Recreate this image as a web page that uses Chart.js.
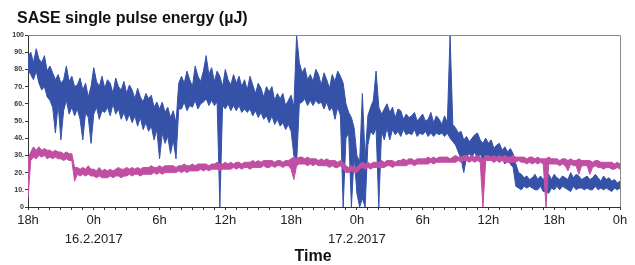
<!DOCTYPE html>
<html lang="en">
<head>
  <meta charset="UTF-8" />
  <title>SASE single pulse energy</title>
  <script src="https://cdn.jsdelivr.net/npm/chart.js"></script>
  <style>
    html, body { margin: 0; padding: 0; background: #fff; }
    .quadro { position: relative; width: 635px; height: 265px; }
    canvas { display: block; }
    h1 {
      position: absolute; left: 17px; top: 10px; margin: 0;
      font: bold 16px/16px "Liberation Sans", Arial, sans-serif; color: #111;
    }
  </style>
</head>
<body>
  <div class="quadro">
    <canvas id="grafico" width="635" height="265"></canvas>
    <h1>SASE single pulse energy (µJ)</h1>
  </div>

  <script>
    // hours since 15.2.2017 18:00, one slot every 15 min
    const passo = 0.25;

    // SASE energy (blue): upper and lower edge of the noisy band per slot
    const saseMax = [
      87, 90, 84, 92,  86, 84, 88, 79,  82, 78, 74, 77,  72, 74, 82, 73,
      76, 70, 71, 75,  68, 72, 64, 70,  81, 73, 70, 76,  69, 74, 72, 66,
      75, 70, 68, 73,  66, 71, 68, 63,  69, 64, 61, 66,  63, 65, 58, 61,
      57, 61, 55, 58,  52, 56, 49, 72,  76, 72, 79, 74,  70, 82, 76, 73,
      79, 88, 77, 81,  73, 79, 76, 70,  80, 74, 71, 77,  72, 76, 70, 74,
      68, 76, 71, 66,  72, 69, 64, 70,  67, 70, 62, 66,  63, 66, 59, 62,
      65, 58, 100, 84, 78, 81, 74, 77,  73, 80, 77, 71,  78, 74, 69, 77,
      73, 79, 76, 72,  60, 55, 52, 46,  30, 26, 66, 28,  53, 58, 62, 79,
      58, 54, 57, 60,  55, 58, 52, 57,  56, 51, 54, 52,  53, 55, 50, 52,
      54, 50, 51, 55,  49, 53, 51, 48,  53, 49, 100, 48, 46, 43, 44, 39,
      41, 38, 40, 42,  43, 39, 37, 40,  37, 39, 34, 36,  37, 33, 35, 32,
      34, 31, 25, 20,  19, 17, 18, 16,  17, 19, 16, 18,  16, 18, 19, 16,
      19, 17, 16, 18,  17, 16, 20, 17,  19, 18, 16, 17,  18, 16, 17, 19,
      17, 15, 18, 16,  17, 15, 16, 14,  15
    ];
    const saseMin = [
      80, 77, 74, 79,  72, 68, 70, 64,  62, 58, 43, 60,  39, 56, 62, 54,
      58, 53, 57, 51,  39, 55, 52, 37,  54, 58, 51, 56,  55, 58, 53, 60,
      54, 57, 51, 55,  50, 54, 49, 53,  47, 52, 45, 49,  44, 47, 39, 45,
      28, 43, 37, 41,  31, 39, 28, 57,  57, 61, 56, 59,  58, 62, 57, 60,
      61, 63, 59, 62,  59, 61, 0, 59,   57, 60, 56, 59,  56, 59, 55, 57,
      55, 57, 53, 56,  52, 55, 51, 53,  49, 53, 48, 51,  47, 49, 45, 48,
      44, 30, 25, 60,  61, 63, 59, 62,  59, 62, 60, 61,  57, 61, 56, 58,
      51, 58, 53, 0,   40, 43, 0, 30,   8, 0, 5, 0,      36, 44, 42, 46,
      0, 44, 39, 46,   39, 45, 42, 44,  41, 45, 42, 43,  42, 45, 41, 43,
      42, 44, 41, 43,  41, 43, 42, 43,  41, 43, 40, 38,  36, 32, 28, 20,
      29, 31, 29, 32,  28, 31, 27, 30,  27, 29, 26, 28,  26, 28, 25, 27,
      25, 23, 12, 11,  10, 12, 11, 12,  11, 10, 10, 12,  9, 9, 8, 11,
      10, 12, 10, 12,  11, 10, 9, 12,   10, 11, 11, 10,  11, 10, 10, 12,
      10, 11, 10, 11,  10, 9, 11, 10,   11
    ];

    // second signal (magenta): upper and lower edge per slot
    const rosaMax = [
      28, 32, 35, 33,  35, 33, 34, 33,  33, 32, 33, 32,  32, 31, 32, 31,
      31, 23, 23, 22,  23, 22, 24, 22,  22, 21, 23, 21,  22, 21, 22, 21,
      22, 23, 22, 22,  23, 22, 23, 22,  23, 22, 23, 23,  23, 24, 23, 23,
      24, 23, 24, 24,  24, 24, 23, 24,  24, 25, 24, 24,  25, 24, 25, 25,
      25, 25, 24, 25,  25, 26, 25, 25,  26, 25, 26, 25,  26, 26, 25, 26,
      26, 26, 27, 26,  27, 26, 27, 27,  27, 27, 26, 27,  27, 26, 27, 27,
      28, 29, 28, 29,  29, 28, 29, 28,  28, 28, 27, 28,  27, 28, 27, 27,
      27, 26, 27, 26,  24, 23, 24, 23,  23, 25, 26, 25,  26, 25, 26, 26,
      26, 27, 26, 27,  27, 27, 26, 27,  27, 28, 27, 28,  28, 27, 28, 28,
      28, 28, 29, 28,  29, 28, 29, 29,  29, 29, 28, 29,  30, 29, 29, 30,
      30, 29, 30, 29,  30, 29, 28, 30,  30, 29, 30, 29,  30, 29, 30, 29,
      29, 30, 29, 29,  29, 29, 28, 29,  29, 28, 29, 28,  28, 28, 29, 28,
      28, 28, 27, 28,  28, 27, 28, 27,  27, 28, 27, 27,  27, 27, 26, 27,
      27, 26, 26, 26,  26, 26, 25, 26,  25
    ];
    const rosaMin = [
      5, 27, 29, 28,   30, 29, 30, 28,  29, 28, 29, 28,  28, 27, 28, 27,
      27, 15, 19, 18,  19, 18, 19, 18,  18, 17, 18, 17,  17, 17, 18, 17,
      18, 18, 17, 18,  18, 19, 18, 19,  19, 18, 19, 19,  19, 19, 20, 19,
      20, 19, 20, 20,  20, 20, 20, 21,  20, 21, 20, 21,  21, 21, 21, 22,
      21, 22, 21, 22,  22, 22, 21, 22,  22, 22, 22, 23,  22, 23, 22, 23,
      23, 22, 23, 23,  23, 23, 24, 23,  23, 24, 23, 24,  24, 23, 24, 24,
      22, 16, 24, 25,  25, 25, 24, 25,  24, 25, 24, 24,  24, 24, 23, 24,
      23, 23, 24, 22,  20, 20, 21, 20,  20, 22, 23, 22,  23, 22, 23, 23,
      23, 23, 23, 24,  24, 23, 24, 24,  24, 24, 24, 25,  25, 24, 25, 25,
      25, 25, 25, 26,  25, 26, 26, 26,  26, 26, 26, 26,  26, 27, 26, 27,
      27, 26, 27, 26,  27, 26, 0, 27,   27, 27, 26, 27,  26, 27, 26, 26,
      26, 26, 26, 27,  26, 26, 25, 26,  25, 26, 25, 26,  25, 0, 25, 25,
      25, 25, 24, 25,  24, 21, 25, 24,  24, 19, 24, 24,  24, 19, 23, 24,
      23, 23, 22, 23,  23, 22, 22, 23,  22
    ];

    const rotulosHora = ['18h', '0h', '6h', '12h', '18h', '0h', '6h', '12h', '18h', '0h'];
    const rotulosData = ['', '16.2.2017', '', '', '', '17.2.2017', '', '', '', ''];
    const rotulosY = ['0', '10.', '20.', '30.', '40.', '50.', '60.', '70.', '80.', '90.', '100'];

    const azul = '#3652a8';
    const rosa = '#c04fa3';

    const pontos = serie => serie.map((v, i) => ({ x: i * passo, y: v }));

    // gray frame on top and right of the plot
    const moldura = {
      id: 'moldura',
      afterDatasetsDraw(chart) {
        const { ctx, chartArea: a } = chart;
        ctx.save();
        ctx.strokeStyle = '#8a8a8a';
        ctx.lineWidth = 1;
        ctx.beginPath();
        ctx.moveTo(a.left, a.top + 0.5);
        ctx.lineTo(a.right + 0.5, a.top + 0.5);
        ctx.lineTo(a.right + 0.5, a.bottom);
        ctx.stroke();
        ctx.restore();
      }
    };

    const faixa = (serie, cor, preencher) => ({
      data: pontos(serie),
      borderColor: cor,
      backgroundColor: cor,
      borderWidth: 1,
      pointRadius: 0,
      fill: preencher
    });

    new Chart(document.getElementById('grafico'), {
      type: 'line',
      data: {
        datasets: [
          faixa(rosaMax, rosa, false),
          faixa(rosaMin, rosa, '-1'),
          faixa(saseMax, azul, false),
          faixa(saseMin, azul, '-1')
        ]
      },
      options: {
        responsive: false,
        animation: false,
        events: [],
        layout: { padding: { left: 6, right: 15, top: 35, bottom: 0 } },
        plugins: {
          legend: { display: false },
          tooltip: { enabled: false },
          subtitle: {
            display: true,
            position: 'bottom',
            text: 'Time',
            color: '#111',
            font: { family: 'Liberation Sans', size: 16, weight: 'bold', lineHeight: 1 },
            padding: { top: 0, bottom: 0 }
          }
        },
        scales: {
          x: {
            type: 'linear',
            min: 0,
            max: 54,
            afterFit: s => { s.height = 42; },
            border: { color: '#333', width: 1 },
            grid: { drawOnChartArea: false, tickLength: 3, color: '#333' },
            ticks: {
              stepSize: 1,
              autoSkip: false,
              maxRotation: 0,
              padding: 1,
              color: '#222',
              font: { family: 'Liberation Sans', size: 13, lineHeight: 1.45 },
              callback: v => {
                if (v % 6 !== 0) return '';
                const k = v / 6;
                return rotulosData[k] ? [rotulosHora[k], rotulosData[k]] : rotulosHora[k];
              }
            }
          },
          y: {
            min: 0,
            max: 100,
            afterFit: s => { s.width = 22; },
            border: { color: '#333', width: 1 },
            grid: { drawOnChartArea: false, tickLength: 3, color: '#333' },
            ticks: {
              stepSize: 10,
              padding: 1,
              color: '#333',
              font: { family: 'Liberation Sans', size: 7, weight: 'bold' },
              callback: v => rotulosY[v / 10]
            }
          }
        }
      },
      plugins: [moldura]
    });
  </script>
</body>
</html>
